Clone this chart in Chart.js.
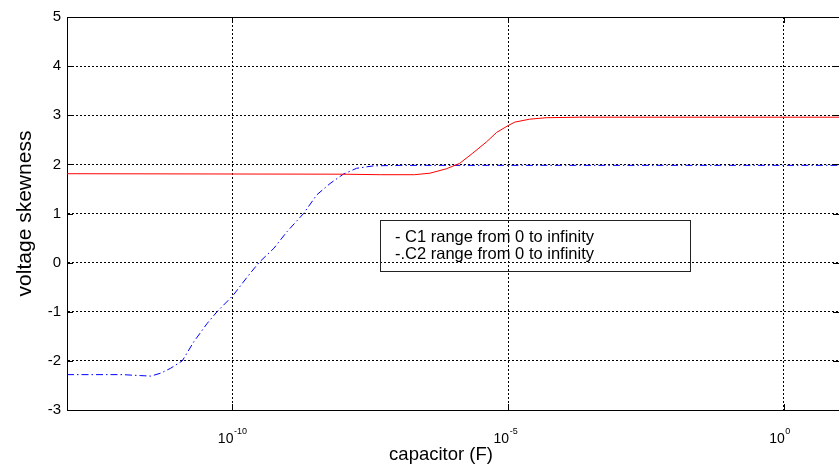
<!DOCTYPE html>
<html><head><meta charset="utf-8">
<script src="https://cdn.jsdelivr.net/npm/chart.js@4/dist/chart.umd.min.js"></script>
<style>html,body{margin:0;padding:0;background:#fff}canvas{display:block}</style>
</head><body>
<canvas id="c" width="839" height="467"></canvas>
<script>
// exponents of capacitor value (10^e F) and skewness values
const c1LogCap = [-13, -8, -7.32, -6.7, -6.42, -6.12, -5.88, -5.64, -5.39, -5.21, -5.0, -4.88, -4.61, -4.31, -3.7, 1];
const c1Skew   = [1.81, 1.80, 1.79, 1.79, 1.82, 1.91, 2.02, 2.23, 2.46, 2.65, 2.79, 2.86, 2.92, 2.95, 2.96, 2.96];
const c2LogCap = [-13, -12, -11.66, -11.48, -11.30, -11.12, -10.91, -10.70, -10.46, -10.28, -9.99, -9.73, -9.52, -9.25, -9.01, -8.71, -8.47, -8.23, -7.99, -7.75, -7.44, -6.96, 1];
const c2Skew   = [-2.28, -2.28, -2.30, -2.31, -2.25, -2.15, -2.0, -1.61, -1.24, -1.0, -0.67, -0.29, 0, 0.29, 0.63, 1.0, 1.38, 1.61, 1.80, 1.92, 1.97, 1.98, 1.98];
const xTickExponents = [-10, -5, 0];
const xRangeExponents = [-13, 1];
const yRange = [-3, 5];
const seriesLabels = ['- C1 range from 0 to infinity', '-.C2 range from 0 to infinity'];
const xTitle = 'capacitor (F)';
const yTitle = 'voltage skewness';

const FONT = "'Liberation Sans', Arial, Helvetica, sans-serif";

function pts(xs, ys) { return xs.map((e, i) => ({ x: Math.pow(10, e), y: ys[i] })); }

const decor = {
  id: 'decor',
  afterDraw(chart) {
    const ctx = chart.ctx;
    const a = chart.chartArea;
    const xs = chart.scales.x, ys = chart.scales.y;
    ctx.save();
    ctx.strokeStyle = '#000';
    ctx.lineWidth = 1;
    ctx.setLineDash([]);
    // top border
    ctx.beginPath();
    ctx.moveTo(a.left, Math.round(a.top) + 0.5);
    ctx.lineTo(a.right, Math.round(a.top) + 0.5);
    ctx.stroke();
    // inner ticks
    ctx.beginPath();
    xs.ticks.forEach(t => {
      const px = Math.round(xs.getPixelForValue(t.value)) + 0.5;
      ctx.moveTo(px, a.bottom); ctx.lineTo(px, a.bottom - 6);
      ctx.moveTo(px, a.top); ctx.lineTo(px, a.top + 6);
    });
    ys.ticks.forEach(t => {
      const py = Math.round(ys.getPixelForValue(t.value)) + 0.5;
      ctx.moveTo(a.left, py); ctx.lineTo(a.left + 6, py);
      ctx.moveTo(a.right, py); ctx.lineTo(a.right - 6, py);
    });
    ctx.stroke();
    // x tick labels 10^e
    ctx.fillStyle = '#000';
    ctx.textBaseline = 'alphabetic';
    xTickExponents.forEach(e => {
      const px = xs.getPixelForValue(Math.pow(10, e));
      ctx.font = '14px ' + FONT;
      ctx.textAlign = 'right';
      ctx.fillText('10', px + 1, a.bottom + 33);
      ctx.font = '9px ' + FONT;
      ctx.textAlign = 'left';
      ctx.fillText(String(e), px + 1.5, a.bottom + 24);
    });
    // x axis title
    ctx.font = '18.5px ' + FONT;
    ctx.textAlign = 'center';
    ctx.textBaseline = 'middle';
    ctx.fillText(xTitle, 441, 455);
    // legend box
    ctx.strokeStyle = '#222';
    ctx.strokeRect(380.5, 220.5, 310, 51);
    ctx.font = '16.5px ' + FONT;
    ctx.textAlign = 'left';
    ctx.textBaseline = 'middle';
    chart.data.datasets.forEach((d, i) => {
      ctx.fillText(d.label, 395, 237 + i * 17);
    });
    ctx.restore();
  }
};

new Chart(document.getElementById('c'), {
  type: 'line',
  data: {
    datasets: [
      { label: seriesLabels[0], data: pts(c1LogCap, c1Skew), borderColor: '#ff0000', borderWidth: 1, pointRadius: 0, tension: 0, fill: false },
      { label: seriesLabels[1], data: pts(c2LogCap, c2Skew), borderColor: '#0000ff', borderWidth: 1, borderDash: [7, 3, 1.5, 3], pointRadius: 0, tension: 0, fill: false }
    ]
  },
  options: {
    responsive: false,
    devicePixelRatio: 1,
    animation: false,
    layout: { padding: { top: 17, right: 0, left: 0, bottom: 0 } },
    plugins: { legend: { display: false }, tooltip: { enabled: false } },
    scales: {
      x: {
        type: 'logarithmic',
        min: Math.pow(10, xRangeExponents[0]),
        max: Math.pow(10, xRangeExponents[1]),
        afterBuildTicks(s) { s.ticks = xTickExponents.map(e => ({ value: Math.pow(10, e) })); },
        afterFit(s) { s.height = 57; },
        ticks: { display: false },
        grid: { color: '#000', lineWidth: 1, drawTicks: false },
        border: { display: true, color: '#000', width: 1, dash: [2, 2] },
        title: { display: false, text: xTitle }
      },
      y: {
        type: 'linear',
        min: yRange[0], max: yRange[1],
        afterFit(s) { s.width = 67; },
        ticks: { stepSize: 1, color: '#000', font: { family: FONT, size: 15 }, padding: 6 },
        grid: { color: '#000', lineWidth: 1, drawTicks: false },
        border: { display: true, color: '#000', width: 1, dash: [2, 2] },
        title: { display: true, text: yTitle, color: '#000', font: { family: FONT, size: 21 }, padding: { top: 13, bottom: 0 } }
      }
    }
  },
  plugins: [decor]
});
</script>
</body></html>
